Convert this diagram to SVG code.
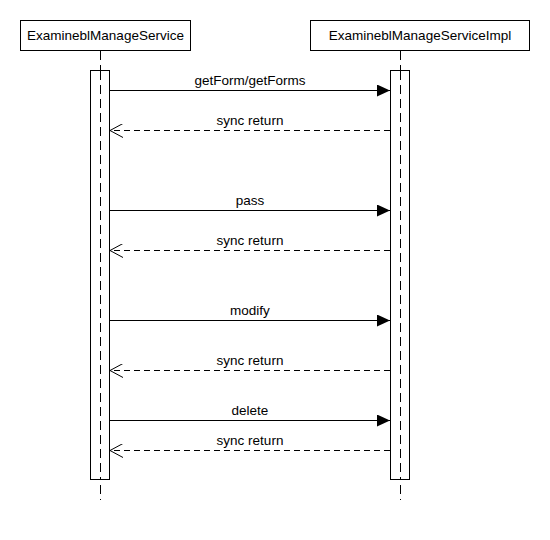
<svg xmlns="http://www.w3.org/2000/svg" width="550" height="540" viewBox="0 0 550 540">
<style>
text{font-family:"Liberation Sans",Arial,sans-serif;font-size:13.5px;fill:#000;text-anchor:middle}
.box{fill:#fff;stroke:#000;stroke-width:1}
.life{stroke:#000;stroke-width:1;stroke-dasharray:9,5;fill:none}
.call{stroke:#000;stroke-width:1;fill:none}
.ret{stroke:#000;stroke-width:1;stroke-dasharray:6,4;fill:none}
</style>
<defs>
<marker id="filled" markerWidth="14" markerHeight="12" refX="13" refY="6" orient="auto" markerUnits="userSpaceOnUse">
<path d="M0,0 L13,6 L0,12 Z" fill="#000"/>
</marker>
<marker id="open" markerWidth="14" markerHeight="14" refX="13" refY="7" orient="auto" markerUnits="userSpaceOnUse">
<path d="M0,0 L13,7 L0,14" fill="none" stroke="#000"/>
</marker>
</defs>
<rect width="550" height="540" fill="#fff"/>
<g id="svc">
<rect class="box" x="20.5" y="20.5" width="170" height="30"/>
<text x="105.5" y="40">ExamineblManageService</text>
<line class="life" x1="100.5" y1="51" x2="100.5" y2="500"/>
<rect class="box" x="90.5" y="70.5" width="19" height="409"/>
<line class="life" x1="100.5" y1="71" x2="100.5" y2="479"/>
</g>
<g id="impl">
<rect class="box" x="310.5" y="20.5" width="219" height="30"/>
<text x="420" y="40">ExamineblManageServiceImpl</text>
<line class="life" x1="400.5" y1="51" x2="400.5" y2="500"/>
<rect class="box" x="390.5" y="70.5" width="19" height="409"/>
<line class="life" x1="400.5" y1="71" x2="400.5" y2="479"/>
</g>
<g id="connectors">
<line class="call" x1="110" y1="90.5" x2="390" y2="90.5" marker-end="url(#filled)"/>
<text x="250" y="85">getForm/getForms</text>
<line class="ret" x1="390" y1="130.5" x2="110" y2="130.5" marker-end="url(#open)"/>
<text x="250" y="125">sync return</text>
<line class="call" x1="110" y1="210.5" x2="390" y2="210.5" marker-end="url(#filled)"/>
<text x="250" y="205">pass</text>
<line class="ret" x1="390" y1="250.5" x2="110" y2="250.5" marker-end="url(#open)"/>
<text x="250" y="245">sync return</text>
<line class="call" x1="110" y1="320.5" x2="390" y2="320.5" marker-end="url(#filled)"/>
<text x="250" y="315">modify</text>
<line class="ret" x1="390" y1="370.5" x2="110" y2="370.5" marker-end="url(#open)"/>
<text x="250" y="365">sync return</text>
<line class="call" x1="110" y1="420.5" x2="390" y2="420.5" marker-end="url(#filled)"/>
<text x="250" y="415">delete</text>
<line class="ret" x1="390" y1="450.5" x2="110" y2="450.5" marker-end="url(#open)"/>
<text x="250" y="445">sync return</text>
</g>
</svg>
